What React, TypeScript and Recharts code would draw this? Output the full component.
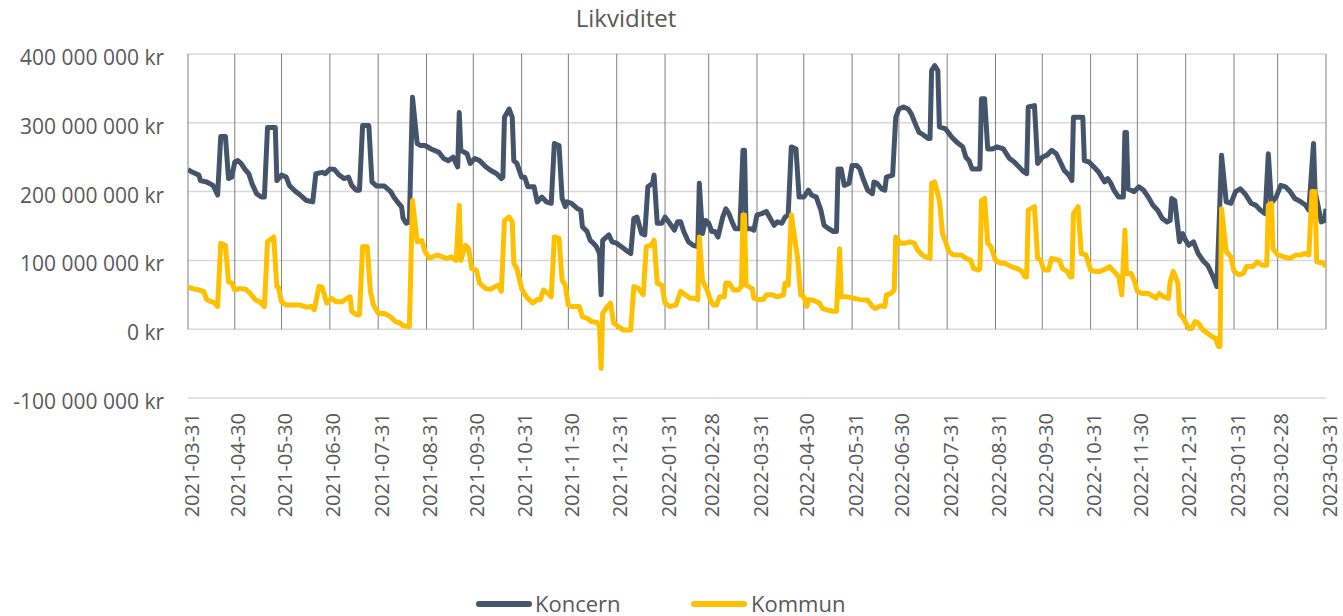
import { LineChart, Line, XAxis, YAxis, CartesianGrid, ReferenceLine } from 'recharts';

const FONT = '"Open Sans", sans-serif';
const TEXT = '#595959';
const KONCERN_COLOR = '#44546A';
const KOMMUN_COLOR = '#FFC000';

// month labels on the date axis
const monthLabels = [
  '2021-03-31', '2021-04-30', '2021-05-30', '2021-06-30', '2021-07-31', '2021-08-31',
  '2021-09-30', '2021-10-31', '2021-11-30', '2021-12-31', '2022-01-31', '2022-02-28',
  '2022-03-31', '2022-04-30', '2022-05-31', '2022-06-30', '2022-07-31', '2022-08-31',
  '2022-09-30', '2022-10-31', '2022-11-30', '2022-12-31', '2023-01-31', '2023-02-28',
  '2023-03-31',
];

const yTicks = [-100, 0, 100, 200, 300, 400]; // miljoner kr

// [dagar efter 2021-03-31, miljoner kr]
const koncern: [number, number][] = [
  [0, 232], [3, 228], [7, 224], [8, 216], [12, 214], [16, 209], [17, 205], [19, 195], [21, 280], [24, 280],
  [26, 219], [28, 221], [30, 243], [32, 245], [34, 241], [37, 231], [39, 226], [41, 212], [44, 197], [47, 192],
  [49, 192], [51, 293], [56, 293], [57, 216], [60, 224], [63, 221], [65, 209], [69, 200], [72, 195], [76, 187],
  [80, 185], [82, 226], [86, 228], [88, 226], [91, 233], [94, 232], [97, 224], [100, 219], [103, 221], [105, 209],
  [108, 202], [110, 202], [112, 296], [116, 296], [118, 214], [121, 208], [126, 208], [130, 200], [132, 192], [135, 183],
  [137, 178], [138, 161], [140, 154], [142, 156], [144, 337], [147, 270], [149, 267], [152, 267], [156, 262], [161, 257],
  [164, 248], [167, 245], [170, 250], [173, 236], [174, 315], [175, 260], [179, 255], [181, 241], [184, 248], [187, 245],
  [191, 236], [194, 231], [198, 226], [201, 219], [202, 221], [203, 308], [206, 320], [208, 308], [209, 245], [211, 241],
  [214, 221], [216, 221], [218, 207], [222, 207], [224, 185], [227, 192], [230, 185], [233, 183], [235, 270], [238, 267],
  [240, 190], [242, 178], [243, 185], [246, 183], [250, 175], [252, 173], [253, 149], [256, 142], [258, 129], [260, 125],
  [262, 120], [264, 110], [265, 50], [266, 129], [270, 137], [272, 127], [275, 125], [278, 120], [282, 113], [284, 110],
  [286, 161], [288, 163], [291, 139], [293, 137], [295, 207], [298, 212], [299, 224], [301, 154], [304, 154], [306, 163],
  [309, 154], [312, 144], [314, 156], [316, 156], [318, 142], [321, 127], [324, 122], [327, 120], [328, 212], [330, 139],
  [332, 158], [334, 154], [336, 142], [338, 142], [340, 134], [343, 163], [345, 175], [347, 168], [349, 156], [351, 146],
  [354, 146], [356, 260], [357, 260], [358, 146], [361, 146], [363, 144], [365, 166], [368, 168], [371, 171], [373, 163],
  [376, 151], [378, 156], [381, 154], [383, 163], [385, 166], [387, 265], [390, 262], [392, 192], [395, 192], [398, 202],
  [400, 195], [403, 192], [406, 173], [408, 151], [411, 146], [414, 142], [416, 142], [417, 233], [419, 233], [421, 209],
  [424, 212], [426, 238], [429, 238], [431, 233], [433, 219], [436, 202], [439, 197], [440, 214], [442, 212], [445, 204],
  [447, 202], [448, 221], [452, 224], [454, 308], [456, 320], [459, 323], [462, 320], [464, 313], [467, 296], [469, 286],
  [472, 282], [475, 277], [476, 277], [477, 376], [479, 383], [481, 376], [482, 294], [486, 291], [490, 279], [493, 272],
  [497, 265], [499, 250], [501, 245], [503, 233], [506, 233], [508, 233], [509, 335], [511, 335], [513, 262], [516, 262],
  [519, 265], [523, 262], [527, 248], [530, 243], [533, 236], [536, 229], [538, 226], [539, 323], [543, 325], [545, 241],
  [548, 250], [551, 253], [554, 260], [557, 255], [560, 241], [562, 231], [565, 224], [567, 216], [568, 308], [574, 308],
  [575, 245], [578, 243], [581, 236], [584, 229], [588, 214], [590, 219], [592, 212], [594, 202], [597, 192], [600, 192],
  [601, 286], [602, 286], [603, 204], [607, 200], [610, 207], [613, 202], [616, 192], [619, 180], [622, 173], [625, 161],
  [628, 156], [630, 158], [631, 190], [633, 187], [636, 127], [638, 139], [640, 129], [642, 122], [645, 127], [648, 110],
  [651, 100], [654, 93], [656, 84], [658, 74], [660, 62], [663, 253], [666, 185], [669, 183], [672, 200], [675, 204],
  [678, 197], [682, 183], [685, 180], [688, 173], [691, 168], [693, 255], [695, 183], [698, 192], [701, 209], [704, 207],
  [707, 200], [710, 190], [714, 185], [717, 180], [719, 173], [722, 270], [723, 200], [727, 156], [729, 158], [730, 175],
];

const kommun: [number, number][] = [
  [0, 61], [3, 59], [7, 57], [10, 55], [12, 43], [15, 40], [17, 38], [19, 33], [21, 125], [24, 122],
  [26, 69], [28, 67], [30, 57], [33, 59], [37, 58], [40, 52], [43, 43], [46, 40], [49, 33], [51, 127],
  [55, 134], [57, 62], [58, 61], [60, 40], [63, 35], [68, 35], [72, 35], [76, 32], [79, 33], [81, 28],
  [84, 62], [86, 61], [89, 38], [92, 45], [95, 40], [99, 40], [102, 45], [104, 47], [105, 26], [108, 21],
  [110, 21], [112, 120], [115, 120], [117, 55], [119, 35], [122, 23], [126, 23], [130, 18], [133, 11], [136, 9],
  [138, 5], [142, 4], [144, 187], [147, 127], [150, 129], [152, 113], [155, 103], [160, 108], [163, 105], [166, 103],
  [169, 105], [172, 100], [174, 180], [175, 100], [178, 122], [180, 117], [182, 88], [185, 86], [187, 67], [191, 59],
  [194, 58], [197, 62], [199, 64], [201, 55], [203, 158], [206, 163], [208, 156], [209, 96], [211, 88], [214, 59],
  [217, 47], [221, 38], [224, 43], [226, 43], [228, 57], [231, 52], [233, 47], [235, 134], [238, 132], [240, 71],
  [242, 64], [244, 35], [246, 33], [251, 33], [253, 18], [256, 16], [259, 11], [262, 10], [264, 4], [265, -57],
  [266, 23], [269, 33], [271, 38], [273, 9], [276, 4], [279, -1], [284, -1], [286, 62], [289, 59], [292, 50],
  [294, 120], [297, 122], [299, 129], [301, 67], [304, 64], [306, 38], [309, 33], [313, 35], [316, 55], [319, 50],
  [322, 45], [325, 45], [327, 43], [328, 134], [330, 71], [333, 57], [335, 43], [337, 35], [339, 35], [341, 47],
  [344, 47], [345, 67], [347, 67], [350, 57], [353, 57], [355, 62], [356, 166], [357, 166], [358, 64], [362, 59],
  [363, 45], [366, 43], [369, 43], [371, 50], [375, 50], [378, 47], [382, 50], [383, 67], [385, 64], [387, 166],
  [391, 105], [393, 50], [395, 47], [397, 33], [398, 43], [401, 42], [405, 38], [407, 30], [410, 28], [414, 26],
  [416, 26], [418, 117], [419, 47], [423, 47], [427, 45], [431, 43], [436, 42], [439, 33], [441, 30], [444, 34],
  [447, 33], [448, 50], [451, 52], [453, 57], [454, 134], [457, 125], [460, 125], [463, 127], [466, 125], [468, 115],
  [471, 108], [473, 105], [476, 103], [477, 212], [479, 214], [482, 187], [484, 139], [486, 127], [488, 113], [491, 108],
  [496, 108], [499, 103], [502, 100], [504, 88], [507, 86], [508, 88], [509, 187], [511, 190], [513, 125], [515, 120],
  [518, 100], [521, 96], [524, 96], [528, 91], [532, 88], [535, 84], [537, 76], [538, 76], [539, 173], [543, 178],
  [545, 103], [547, 100], [549, 86], [552, 86], [554, 103], [559, 100], [561, 88], [564, 84], [566, 76], [567, 76],
  [568, 168], [571, 178], [573, 110], [576, 108], [579, 86], [582, 84], [585, 84], [589, 88], [591, 91], [594, 84],
  [597, 76], [599, 50], [601, 144], [602, 81], [605, 81], [607, 71], [609, 55], [612, 52], [616, 52], [621, 45],
  [623, 52], [626, 47], [629, 45], [630, 69], [632, 84], [635, 67], [636, 23], [639, 14], [642, 1], [644, 1],
  [646, 11], [648, 9], [651, -1], [654, -6], [657, -11], [659, -13], [661, -25], [662, -25], [663, 175], [666, 113],
  [669, 105], [671, 84], [674, 79], [677, 81], [679, 91], [683, 91], [686, 98], [689, 93], [692, 93], [693, 180],
  [695, 183], [696, 117], [699, 108], [703, 105], [707, 103], [711, 108], [714, 108], [716, 110], [719, 108], [721, 200],
  [723, 200], [724, 98], [728, 96], [730, 91],
];

const START = Date.UTC(2021, 2, 31);
const dayOf = (s: string) => {
  const [y, m, d] = s.split('-').map(Number);
  return Math.round((Date.UTC(y, m - 1, d) - START) / 86400000);
};
const dateOf = (day: number) => new Date(START + day * 86400000).toISOString().slice(0, 10);

const monthTicks = monthLabels.map(dayOf);
const labelByDay: Record<number, string> = {};
monthLabels.forEach((s) => { labelByDay[dayOf(s)] = s; });

const toRows = (pts: [number, number][]) => pts.map(([day, mkr]) => ({ day, date: dateOf(day), value: mkr * 1e6 }));
const koncernData = toRows(koncern);
const kommunData = toRows(kommun);

const formatKr = (v: number) => {
  const s = String(Math.abs(Math.round(v))).replace(/\B(?=(\d{3})+(?!\d))/g, ' ');
  return `${v < 0 ? '-' : ''}${s} kr`;
};

function YTick({ x, y, payload }: any) {
  return (
    <text x={x - 24} y={y} dy={11} textAnchor="end" fill={TEXT} fontSize={21} fontFamily={FONT}>
      {formatKr(payload.value)}
    </text>
  );
}

function XTick({ x, y, payload }: any) {
  const ty = y + 15;
  return (
    <text
      x={x}
      y={ty}
      dy={10.5}
      textAnchor="end"
      transform={`rotate(-90, ${x}, ${ty})`}
      fill={TEXT}
      fontSize={20}
      fontFamily={FONT}
    >
      {labelByDay[payload.value] ?? dateOf(payload.value)}
    </text>
  );
}

export default function App() {
  return (
    <div style={{ position: 'absolute', left: 0, top: 0, width: 1338, height: 616, overflow: 'hidden', background: '#fff' }}>
      <LineChart width={1343} height={616} margin={{ top: 54, right: 17, bottom: 0, left: 0 }}>
        <CartesianGrid vertical={false} stroke="#d9d9d9" strokeWidth={1.5} />
        <XAxis
          dataKey="day"
          type="number"
          domain={[0, 730]}
          ticks={monthTicks}
          interval={0}
          allowDataOverflow
          height={218}
          axisLine={false}
          tickLine={false}
          tickSize={0}
          tickMargin={0}
          tick={<XTick />}
        />
        <YAxis
          type="number"
          domain={[-100e6, 400e6]}
          ticks={yTicks.map((t) => t * 1e6)}
          interval={0}
          width={188}
          axisLine={false}
          tickLine={false}
          tickSize={0}
          tickMargin={0}
          tick={<YTick />}
        />
        {monthTicks.map((d) => (
          <ReferenceLine
            key={d}
            segment={[{ x: d, y: 0 }, { x: d, y: 400e6 }]}
            stroke="#7f7f7f"
            strokeWidth={1}
          />
        ))}
        <Line
          data={koncernData}
          dataKey="value"
          name="Koncern"
          type="linear"
          stroke={KONCERN_COLOR}
          strokeWidth={5}
          strokeLinejoin="round"
          dot={false}
          isAnimationActive={false}
        />
        <Line
          data={kommunData}
          dataKey="value"
          name="Kommun"
          type="linear"
          stroke={KOMMUN_COLOR}
          strokeWidth={5}
          strokeLinejoin="round"
          dot={false}
          isAnimationActive={false}
        />
      </LineChart>
      <svg width={1338} height={616} style={{ position: 'absolute', left: 0, top: 0, pointerEvents: 'none' }}>
        <text x={626} y={27} textAnchor="middle" fill={TEXT} fontSize={24} fontFamily={FONT}>Likviditet</text>
        <line x1={479} y1={604} x2={529} y2={604} stroke={KONCERN_COLOR} strokeWidth={6} strokeLinecap="round" />
        <text x={535} y={612} fill={TEXT} fontSize={22} fontFamily={FONT}>Koncern</text>
        <line x1={694} y1={604} x2={744} y2={604} stroke={KOMMUN_COLOR} strokeWidth={6} strokeLinecap="round" />
        <text x={751} y={612} fill={TEXT} fontSize={22} fontFamily={FONT}>Kommun</text>
      </svg>
    </div>
  );
}
